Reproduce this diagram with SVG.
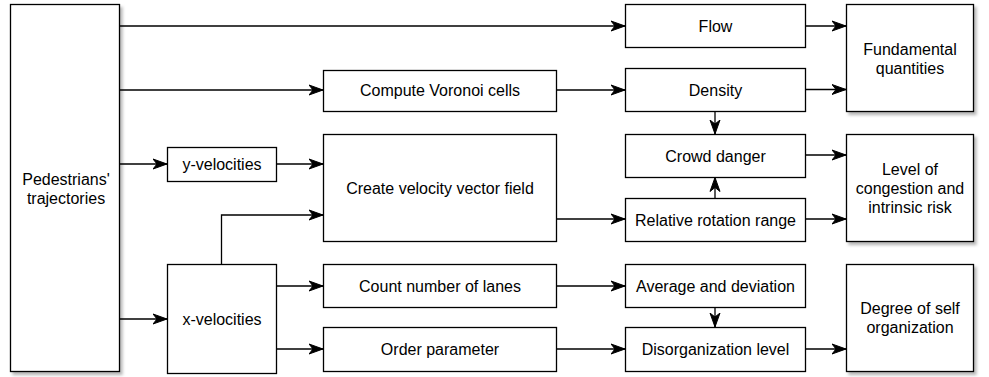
<svg xmlns="http://www.w3.org/2000/svg" width="989" height="377" viewBox="0 0 989 377">
  <defs>
    <filter id="shadow" x="-10%" y="-10%" width="130%" height="130%">
      <feDropShadow dx="2.5" dy="3" stdDeviation="1.5" flood-color="#000" flood-opacity="0.28"/>
    </filter>
    <marker id="arrow" viewBox="-14 -6 15 12" refX="0" refY="0" markerWidth="15" markerHeight="12" markerUnits="userSpaceOnUse" orient="auto">
      <path d="M0,0 L-14,-5 L-10,0 L-14,5 Z" fill="#000" stroke="#000" stroke-width="1"/>
    </marker>
    <style>
      .box { fill: #fff; stroke: #000; stroke-width: 1.3; }
      .sh { filter: url(#shadow); }
      .lbl { font-family: "Liberation Sans", Arial, sans-serif; font-size: 16px; fill: #000; text-anchor: middle; }
      .edge { fill: none; stroke: #000; stroke-width: 1.3; marker-end: url(#arrow); }
    </style>
  </defs>
  <rect width="989" height="377" fill="#fff"/>

  <!-- connectors -->
  <g id="connectors">
    <path class="edge" d="M119.5,26 H625"/>
    <path class="edge" d="M119.5,90 H323"/>
    <path class="edge" d="M119.5,164 H167"/>
    <path class="edge" d="M119.5,319 H167"/>
    <path class="edge" d="M276.5,164 H323"/>
    <path class="edge" d="M221.5,264 V215 H323"/>
    <path class="edge" d="M276.5,286 H323"/>
    <path class="edge" d="M276.5,349 H323"/>
    <path class="edge" d="M556.5,90 H625"/>
    <path class="edge" d="M556.5,219 H625"/>
    <path class="edge" d="M556.5,286 H625"/>
    <path class="edge" d="M556.5,349 H625"/>
    <path class="edge" d="M805.5,26 H846"/>
    <path class="edge" d="M805.5,89.5 H846"/>
    <path class="edge" d="M715,111.5 V134"/>
    <path class="edge" d="M715,198 V177.5"/>
    <path class="edge" d="M805.5,155 H846"/>
    <path class="edge" d="M805.5,219 H846"/>
    <path class="edge" d="M715,307.5 V327"/>
    <path class="edge" d="M805.5,349 H846"/>
  </g>

  <!-- nodes -->
  <g id="pedestrians">
    <rect class="box sh" x="10.5" y="4.5" width="109" height="367"/>
    <text class="lbl" x="66" y="185">Pedestrians'</text>
    <text class="lbl" x="66" y="204">trajectories</text>
  </g>
  <g id="y-velocities">
    <rect class="box" x="167.5" y="147.5" width="109" height="34"/>
    <text class="lbl" x="222" y="170">y-velocities</text>
  </g>
  <g id="x-velocities">
    <rect class="box" x="167.5" y="264.5" width="109" height="109"/>
    <text class="lbl" x="222" y="325">x-velocities</text>
  </g>
  <g id="voronoi">
    <rect class="box" x="323.5" y="70.5" width="233" height="41"/>
    <text class="lbl" x="440" y="96">Compute Voronoi cells</text>
  </g>
  <g id="velocity-field">
    <rect class="box" x="323.5" y="134.5" width="233" height="107"/>
    <text class="lbl" x="440" y="193.5">Create velocity vector field</text>
  </g>
  <g id="lanes">
    <rect class="box" x="323.5" y="264.5" width="233" height="43"/>
    <text class="lbl" x="440" y="292">Count number of lanes</text>
  </g>
  <g id="order">
    <rect class="box" x="323.5" y="327.5" width="233" height="44"/>
    <text class="lbl" x="440" y="355">Order parameter</text>
  </g>
  <g id="flow">
    <rect class="box" x="625.5" y="4.5" width="180" height="43"/>
    <text class="lbl" x="715.5" y="32">Flow</text>
  </g>
  <g id="density">
    <rect class="box" x="625.5" y="68.5" width="180" height="43"/>
    <text class="lbl" x="715.5" y="96">Density</text>
  </g>
  <g id="crowd-danger">
    <rect class="box" x="625.5" y="134.5" width="180" height="43"/>
    <text class="lbl" x="715.5" y="162">Crowd danger</text>
  </g>
  <g id="rotation">
    <rect class="box" x="625.5" y="198.5" width="180" height="43"/>
    <text class="lbl" x="715.5" y="226">Relative rotation range</text>
  </g>
  <g id="average">
    <rect class="box" x="625.5" y="264.5" width="180" height="43"/>
    <text class="lbl" x="715.5" y="292">Average and deviation</text>
  </g>
  <g id="disorganization">
    <rect class="box" x="625.5" y="327.5" width="180" height="44"/>
    <text class="lbl" x="715.5" y="355">Disorganization level</text>
  </g>
  <g id="fundamental">
    <rect class="box sh" x="846.5" y="4.5" width="127" height="107"/>
    <text class="lbl" x="910" y="54.5">Fundamental</text>
    <text class="lbl" x="910" y="73.5">quantities</text>
  </g>
  <g id="congestion">
    <rect class="box sh" x="846.5" y="134.5" width="127" height="107"/>
    <text class="lbl" x="910" y="175">Level of</text>
    <text class="lbl" x="910" y="194">congestion and</text>
    <text class="lbl" x="910" y="213">intrinsic risk</text>
  </g>
  <g id="self-organization">
    <rect class="box sh" x="846.5" y="264.5" width="127" height="107"/>
    <text class="lbl" x="910" y="314">Degree of self</text>
    <text class="lbl" x="910" y="333">organization</text>
  </g>
</svg>
